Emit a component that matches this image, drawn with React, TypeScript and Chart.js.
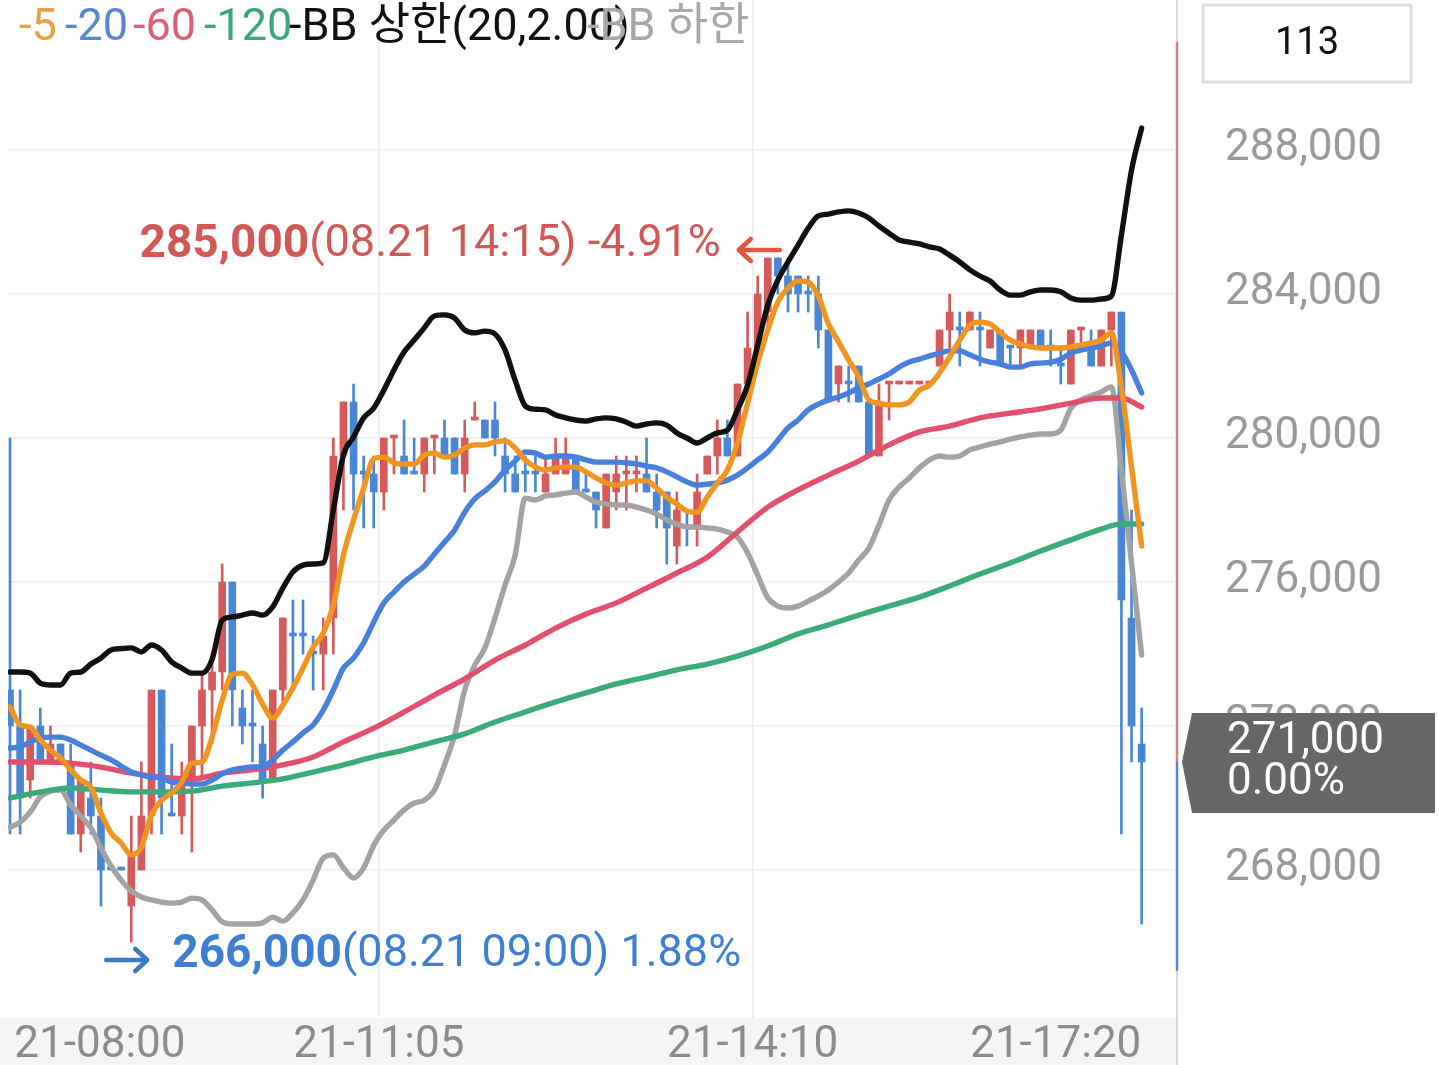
import React, { useEffect, useRef } from "react";
import { Chart, registerables } from "chart.js";

Chart.register(...registerables);

// ---------- candle data (index 0..112) ----------
const opens = [
  273000, 272000, 270500, 272000, 271000, 271500, 271000, 269000, 270000, 269500,
  268000, 268000, 267000, 268000, 269500, 273000, 269500, 269500, 270500, 272000,
  273000, 273500, 276000, 272500, 272000, 271500, 270500, 273000, 274500, 274500,
  274000, 274000, 275000, 279500, 281000, 279000, 279000, 278500, 280000, 279500,
  279000, 279000, 280000, 280000, 280000, 279000, 280500, 280500, 280500, 279500,
  279000, 279000, 279000, 278500, 279000, 279000, 279500, 278500, 278500, 277500,
  278500, 279000, 279000, 279000, 278500, 278500, 277000, 277500, 277500, 279000,
  279500, 280000, 279500, 281500, 282500, 283500, 285000, 284500, 284500, 284000,
  284000, 283000, 281500, 281500, 282000, 281000, 279500, 281500, 281500, 281500,
  281500, 281500, 282000, 283000, 283000, 283000, 283000, 282500, 283000, 282500,
  282500, 282500, 283000, 282500, 282000, 281500, 283000, 282500, 282000, 283000,
  283500, 275000, 271500,
];
const highs = [
  280000, 273000, 272000, 272500, 272000, 271500, 271500, 270500, 271000, 270000,
  268000, 268000, 269500, 271000, 273000, 273000, 271500, 271000, 272000, 273500,
  274000, 276500, 276000, 273000, 273000, 272000, 273000, 275000, 275500, 275500,
  274500, 275000, 280000, 281000, 281500, 279500, 279500, 280000, 280000, 280500,
  280000, 280000, 280000, 280500, 280000, 280500, 281000, 280500, 281000, 280000,
  279500, 279500, 279500, 279500, 280000, 280000, 279500, 279000, 278500, 279000,
  279500, 279500, 279500, 280000, 279000, 278500, 278500, 278000, 279000, 279500,
  280500, 280500, 281500, 283500, 284500, 285000, 285000, 285000, 284500, 284500,
  284500, 283000, 282000, 282000, 282000, 281000, 281500, 281500, 281500, 281500,
  281500, 281500, 283000, 284000, 283500, 283500, 283500, 283000, 283000, 282500,
  283000, 283000, 283000, 283000, 282500, 283000, 283000, 283000, 283000, 283500,
  283500, 278000, 272500,
];
const lows = [
  269000, 269000, 270000, 271000, 271000, 271000, 269000, 268500, 269000, 267000,
  268000, 268000, 266000, 268000, 269000, 269000, 269500, 269000, 268500, 270500,
  271500, 273000, 272000, 271500, 271000, 270000, 270500, 272500, 273000, 274000,
  273000, 273000, 274000, 278000, 278000, 277500, 277500, 278000, 279000, 279000,
  279000, 278500, 279000, 279500, 279000, 278500, 280500, 280000, 279500, 278500,
  278500, 278500, 278500, 278500, 279000, 279000, 278500, 278500, 277500, 277500,
  278000, 278000, 278500, 278500, 277500, 276500, 276500, 277000, 277000, 279000,
  279000, 279500, 279500, 281500, 282500, 283000, 284000, 283500, 283500, 283500,
  282500, 281000, 281000, 281000, 281000, 279500, 279500, 280500, 281500, 281500,
  281500, 281500, 282000, 282500, 282000, 283000, 282000, 282500, 282000, 282000,
  282000, 282500, 282500, 282000, 281500, 281500, 282500, 282000, 282000, 282000,
  269000, 271000, 266500,
];
const closes = [
  272000, 270000, 272000, 271000, 271500, 271000, 269000, 270500, 269500, 268000,
  268000, 268000, 268500, 269500, 273000, 270000, 269500, 270500, 272000, 273000,
  273500, 276000, 273000, 272000, 272000, 270500, 273000, 275000, 274500, 274500,
  274000, 274500, 279500, 281000, 279000, 279000, 278500, 280000, 280000, 279000,
  279000, 280000, 280000, 279500, 279000, 280000, 280500, 280000, 280000, 279000,
  278500, 279000, 279000, 279000, 279500, 279500, 278500, 278500, 278000, 279000,
  279000, 279000, 279000, 278500, 278000, 277500, 278000, 277500, 278500, 279500,
  280000, 279500, 281500, 282500, 284000, 285000, 284500, 284000, 284000, 284000,
  283000, 281000, 282000, 281500, 281000, 279500, 281000, 281500, 281500, 281500,
  281500, 281500, 283000, 283500, 283000, 283500, 283000, 283000, 282000, 282500,
  283000, 283000, 282500, 282500, 282000, 283000, 283000, 282000, 283000, 283500,
  275500, 272000, 271000,
];
// unchanged (doji) candles shown in the rising colour
const dojiRedIdx = [38, 42, 46, 61, 62, 87, 88, 89, 90, 91, 106];

// ---------- indicator lines ----------
const ma5 = [
  272530, 272030, 271970, 271610, 271330, 271110, 270780, 270500, 270310, 269580,
  269030, 268750, 268420, 268640, 269530, 269940, 270140, 270440, 270970, 271000,
  271690, 272720, 273440, 273470, 273140, 272610, 272220, 272580, 273060, 273610,
  274190, 274580, 275360, 276750, 277720, 278610, 279420, 279470, 279310, 279280,
  279280, 279530, 279580, 279470, 279530, 279720, 279810, 279810, 279890, 279920,
  279720, 279390, 279190, 279110, 279170, 279190, 279190, 279060, 278890, 278750,
  278690, 278750, 278810, 278810, 278610, 278360, 278170, 277970, 277940, 278360,
  278750, 279110, 279860, 280970, 282080, 283000, 283780, 284170, 284360, 284330,
  283940, 283170, 282670, 282170, 281690, 281060, 280970, 280920, 280920, 281000,
  281330, 281470, 281810, 282250, 282720, 283140, 283220, 283170, 282940, 282720,
  282610, 282530, 282500, 282500, 282500, 282530, 282580, 282640, 282720, 282920,
  281400, 279200, 277000,
];
const ma20 = [
  271390, 271420, 271560, 271670, 271690, 271690, 271610, 271470, 271330, 271190,
  271060, 270890, 270720, 270640, 270580, 270560, 270440, 270420, 270390, 270390,
  270500, 270670, 270780, 270830, 270860, 270860, 271060, 271330, 271560, 271810,
  272030, 272440, 273000, 273610, 273890, 274310, 274890, 275420, 275720, 276000,
  276220, 276440, 276780, 277110, 277440, 277940, 278310, 278530, 278780, 279110,
  279360, 279610, 279580, 279470, 279500, 279500, 279470, 279390, 279330, 279330,
  279330, 279310, 279280, 279220, 279170, 279060, 278920, 278780, 278690, 278720,
  278750, 278830, 278970, 279170, 279390, 279610, 279940, 280280, 280500, 280780,
  280940, 281060, 281140, 281250, 281390, 281500, 281640, 281780, 281970, 282110,
  282190, 282280, 282360, 282420, 282420, 282310, 282190, 282110, 282060, 281970,
  281970, 282060, 282080, 282110, 282190, 282360, 282440, 282500, 282560, 282640,
  282390, 281890, 281250,
];
const bbUpper = [
  273500, 273500, 273470, 273190, 273140, 273140, 273470, 273500, 273720, 273890,
  274110, 274150, 274170, 274060, 274250, 274110, 273780, 273610, 273470, 273470,
  273850, 274940, 275030, 275080, 275140, 275080, 275310, 275830, 276280, 276470,
  276500, 276530, 278000, 279530, 280030, 280560, 280830, 281330, 281890, 282390,
  282720, 283060, 283390, 283420, 283330, 283000, 282920, 282970, 282890, 282440,
  281600, 280890, 280800, 280780, 280640, 280560, 280500, 280470, 280530, 280560,
  280530, 280440, 280330, 280390, 280420, 280360, 280140, 280000, 279860, 280000,
  280140, 280220, 280780, 281470, 282580, 283690, 284390, 284890, 285360, 285830,
  286170, 286220, 286280, 286310, 286250, 286110, 285890, 285690, 285500, 285440,
  285390, 285310, 285250, 285080, 284890, 284670, 284500, 284360, 284110, 283970,
  283970, 284060, 284110, 284110, 284060, 283890, 283830, 283830, 283860, 283940,
  285640, 287440, 288610,
];
const bbLower = [
  269190, 269330, 269610, 270030, 270190, 270220, 269810, 269500, 269170, 268610,
  268110, 267720, 267420, 267250, 267170, 267110, 267080, 267110, 267220, 267170,
  266890, 266560, 266500, 266500, 266500, 266530, 266690, 266580, 266810, 267170,
  267720, 268330, 268420, 268060, 267780, 268060, 268690, 269110, 269390, 269670,
  269860, 269940, 270220, 270920, 271750, 273000, 273690, 274170, 275000, 275920,
  276750, 278330, 278280, 278390, 278420, 278470, 278500, 278360, 278220, 278170,
  278140, 278140, 278080, 278000, 277890, 277720, 277610, 277530, 277530, 277500,
  277470, 277390, 277250, 276810, 276190, 275560, 275330, 275280, 275330, 275470,
  275610, 275780, 276000, 276250, 276610, 276940, 277580, 278280, 278640, 278890,
  279170, 279390, 279500, 279470, 279500, 279670, 279750, 279830, 279890, 279970,
  280030, 280080, 280110, 280110, 280220, 280830, 281060, 281170, 281280, 281420,
  279110, 276530, 273970,
];
const slowIdx = [
  0, 3, 6, 9, 12, 15, 18, 21, 24, 27, 30, 33, 36, 39, 42, 45, 48, 51, 54, 57,
  60, 63, 66, 69, 72, 75, 78, 81, 84, 87, 90, 93, 96, 99, 102, 105, 108, 110, 112,
];
const ma60 = [
  271000, 271000, 270970, 270860, 270690, 270580, 270530, 270690, 270780, 270920,
  271140, 271560, 271940, 272390, 272860, 273310, 273830, 274250, 274720, 275110,
  275420, 275830, 276250, 276690, 277390, 278080, 278560, 278970, 279360, 279810,
  280170, 280330, 280560, 280690, 280810, 280970, 281110, 281110, 280860,
];
const ma120 = [
  270000, 270170, 270280, 270220, 270170, 270170, 270190, 270330, 270420, 270530,
  270720, 270920, 271140, 271330, 271560, 271780, 272110, 272390, 272670, 272920,
  273170, 273360, 273560, 273720, 273940, 274220, 274560, 274810, 275080, 275330,
  275580, 275890, 276220, 276530, 276860, 277170, 277470, 277610, 277610,
];

// ---------- axes / labels ----------
const xTickIdx = [8.9, 36.5, 73.5, 103.5];
const xTickLabels = ["21-08:00", "21-11:05", "21-14:10", "21-17:20"];
const yTicks = [268000, 272000, 276000, 280000, 284000, 288000];
const legendLabels = ["-5", "-20", "-60", "-120", "-BB 상한(20,2.00)", "-BB 하한"];

const highNote = { time: "08.21 14:15", pct: "-4.91%" };
const lowNote = { time: "08.21 09:00", pct: "1.88%" };
const currentPrice = 271000;
const currentPct = "0.00%";
const rangeTop = 291000;
const rangeBottom = 265200;

const FONT = "Roboto, 'Noto Sans CJK KR', sans-serif";
const RED = "#d65a5c";
const BLUE = "#4a86d6";

export default function App() {
  const ref = useRef<HTMLCanvasElement>(null);

  useEffect(() => {
    const canvas = ref.current;
    if (!canvas) return;
    const n = closes.length;
    const idx = closes.map((_, i) => i);
    const isUp = (i: number) =>
      closes[i] > opens[i] || (closes[i] === opens[i] && dojiRedIdx.includes(i));
    const colors = idx.map((i) => (isUp(i) ? RED : BLUE));
    const bodies = idx.map((i) => ({ x: i, y: [opens[i], closes[i]] }));
    const wicks = idx.map((i) => ({ x: i, y: [lows[i], highs[i]] }));
    const perIdx = (arr: number[]) => arr.map((v, i) => ({ x: i, y: v }));
    const sparse = (xs: number[], ys: number[]) => xs.map((x, k) => ({ x, y: ys[k] }));

    let maxI = 0;
    let minI = 0;
    highs.forEach((h, i) => {
      if (h > highs[maxI]) maxI = i;
    });
    lows.forEach((l, i) => {
      if (l < lows[minI]) minI = i;
    });

    const lineDs = (label: string, data: any[], color: string, order: number, width = 5.4) => ({
      type: "line" as const,
      label,
      data,
      borderColor: color,
      borderWidth: width,
      pointRadius: 0,
      tension: 0.25,
      cubicInterpolationMode: "monotone" as const,
      borderJoinStyle: "round" as const,
      borderCapStyle: "round" as const,
      order,
      parsing: { xAxisKey: "x", yAxisKey: "y" },
    });

    const deco = {
      id: "deco",
      beforeDraw(chart: any) {
        const { ctx, chartArea } = chart;
        ctx.save();
        ctx.fillStyle = "#ffffff";
        ctx.fillRect(0, 0, chart.width, chart.height);
        ctx.fillStyle = "#f5f5f5";
        ctx.fillRect(0, chartArea.bottom, chartArea.right, chart.height - chartArea.bottom);
        ctx.restore();
      },
      afterDraw(chart: any) {
        const { ctx, chartArea, scales } = chart;
        const xs = scales.x;
        const ys = scales.y;
        ctx.save();
        // right border of plot
        const bx = chartArea.right - 1;
        ctx.strokeStyle = "#d0d0d0";
        ctx.lineWidth = 1.5;
        ctx.beginPath();
        ctx.moveTo(bx, 0);
        ctx.lineTo(bx, chart.height);
        ctx.stroke();
        // range line (red above current price, blue below)
        const pyCur = ys.getPixelForValue(currentPrice);
        ctx.lineWidth = 2.5;
        ctx.strokeStyle = "#c98484";
        ctx.beginPath();
        ctx.moveTo(bx, ys.getPixelForValue(rangeTop));
        ctx.lineTo(bx, pyCur);
        ctx.stroke();
        ctx.strokeStyle = "#5a86c8";
        ctx.beginPath();
        ctx.moveTo(bx, pyCur);
        ctx.lineTo(bx, ys.getPixelForValue(rangeBottom));
        ctx.stroke();

        // legend
        const legX = [19, 65, 133, 204, 289, 587];
        const legC = ["#e8a040", "#5b86cf", "#d8607a", "#3ea57a", "#111111", "#a8a8a8"];
        ctx.font = `45px ${FONT}`;
        ctx.textBaseline = "middle";
        ctx.textAlign = "left";
        legendLabels.forEach((t, k) => {
          ctx.fillStyle = legC[k];
          ctx.fillText(t, legX[k], 29);
        });

        // high annotation
        const hx = xs.getPixelForValue(maxI);
        const hy = ys.getPixelForValue(highs[maxI]);
        const hBold = highs[maxI].toLocaleString("en-US");
        const hRest = `(${highNote.time}) ${highNote.pct}`;
        ctx.font = `bold 46px ${FONT}`;
        const wHB = ctx.measureText(hBold).width;
        ctx.font = `45px ${FONT}`;
        const wHR = ctx.measureText(hRest).width;
        const hEnd = hx - 47;
        ctx.fillStyle = "#d25858";
        ctx.font = `bold 46px ${FONT}`;
        ctx.fillText(hBold, hEnd - wHR - wHB, hy - 13);
        ctx.font = `45px ${FONT}`;
        ctx.fillText(hRest, hEnd - wHR, hy - 13);
        ctx.strokeStyle = "#e8553f";
        ctx.lineWidth = 4.5;
        ctx.lineCap = "round";
        ctx.lineJoin = "round";
        ctx.beginPath();
        ctx.moveTo(hx + 12, hy - 8);
        ctx.lineTo(hx - 28, hy - 8);
        ctx.moveTo(hx - 17, hy - 19);
        ctx.lineTo(hx - 29, hy - 8);
        ctx.lineTo(hx - 17, hy + 3);
        ctx.stroke();

        // low annotation
        const lx = xs.getPixelForValue(minI);
        const ly = ys.getPixelForValue(lows[minI]);
        const lBold = lows[minI].toLocaleString("en-US");
        const lRest = `(${lowNote.time}) ${lowNote.pct}`;
        ctx.fillStyle = "#3f7fd3";
        ctx.font = `bold 46px ${FONT}`;
        const wLB = ctx.measureText(lBold).width;
        ctx.fillText(lBold, lx + 41, ly + 13);
        ctx.font = `45px ${FONT}`;
        ctx.fillText(lRest, lx + 41 + wLB, ly + 13);
        ctx.strokeStyle = "#3a78c8";
        ctx.beginPath();
        ctx.moveTo(lx - 25, ly + 18);
        ctx.lineTo(lx + 15, ly + 18);
        ctx.moveTo(lx + 4, ly + 7);
        ctx.lineTo(lx + 16, ly + 18);
        ctx.lineTo(lx + 4, ly + 29);
        ctx.stroke();

        // count box
        const cx = chartArea.right + 129;
        ctx.fillStyle = "#ffffff";
        ctx.fillRect(cx - 104, 5, 208, 77);
        ctx.strokeStyle = "#dedede";
        ctx.lineWidth = 3;
        ctx.strokeRect(cx - 104, 5, 208, 77);
        ctx.fillStyle = "#111111";
        ctx.font = `38px ${FONT}`;
        ctx.textAlign = "center";
        ctx.fillText(String(n), cx, 44);

        // current price tag
        const tl = chartArea.right + 4;
        ctx.fillStyle = "#666668";
        ctx.beginPath();
        ctx.moveTo(tl, pyCur);
        ctx.lineTo(tl + 10, pyCur - 49);
        ctx.lineTo(chart.width - 4, pyCur - 49);
        ctx.lineTo(chart.width - 4, pyCur + 51);
        ctx.lineTo(tl + 10, pyCur + 51);
        ctx.closePath();
        ctx.fill();
        ctx.fillStyle = "#ffffff";
        ctx.textAlign = "left";
        ctx.font = `44px ${FONT}`;
        ctx.fillText(currentPrice.toLocaleString("en-US"), tl + 45, pyCur - 20);
        ctx.fillText(currentPct, tl + 45, pyCur + 21);
        ctx.restore();
      },
    };

    const chart = new Chart(canvas, {
      type: "bar",
      data: {
        datasets: [
          lineDs("BB 상한", perIdx(bbUpper), "#111111", 1),
          lineDs("5", perIdx(ma5), "#f0951f", 2),
          lineDs("20", perIdx(ma20), "#4a80dd", 3),
          lineDs("60", sparse(slowIdx, ma60), "#e2506e", 4),
          lineDs("120", sparse(slowIdx, ma120), "#3bab7b", 5),
          lineDs("BB 하한", perIdx(bbLower), "#a3a3a3", 6),
          {
            type: "bar" as const,
            label: "body",
            data: bodies as any,
            backgroundColor: colors,
            barThickness: 7,
            minBarLength: 3,
            grouped: false,
            borderWidth: 0,
            borderSkipped: false,
            order: 10,
          },
          {
            type: "bar" as const,
            label: "wick",
            data: wicks as any,
            backgroundColor: colors,
            barThickness: 2,
            grouped: false,
            borderWidth: 0,
            borderSkipped: false,
            order: 11,
          },
        ] as any,
      },
      plugins: [deco],
      options: {
        responsive: false,
        animation: false,
        events: [],
        layout: { padding: { left: 8, top: 0, right: 0, bottom: 0 } },
        plugins: { legend: { display: false }, tooltip: { enabled: false } },
        scales: {
          x: {
            type: "linear",
            position: "bottom",
            min: -0.2,
            max: 115.6,
            offset: false,
            afterBuildTicks: (s: any) => {
              s.ticks = xTickIdx.map((v) => ({ value: v }));
            },
            afterFit: (s: any) => {
              s.height = 47;
              s.paddingLeft = 0;
              s.paddingRight = 0;
            },
            ticks: {
              autoSkip: false,
              maxRotation: 0,
              padding: 2,
              color: "#8c8c8c",
              font: { size: 44, family: FONT },
              callback: (_v: any, i: number) => xTickLabels[i],
            },
            grid: {
              offset: false,
              drawTicks: false,
              lineWidth: 1.5,
              color: (c: any) => (c.index === 1 || c.index === 2 ? "#ececec" : "rgba(0,0,0,0)"),
            },
            border: { display: false },
          },
          y: {
            type: "linear",
            position: "right",
            min: 263889,
            max: 292167,
            beginAtZero: false,
            afterBuildTicks: (s: any) => {
              s.ticks = yTicks.map((v) => ({ value: v }));
            },
            afterFit: (s: any) => {
              s.width = 261;
              s.paddingTop = 0;
              s.paddingBottom = 0;
            },
            ticks: {
              padding: 47,
              crossAlign: "near",
              labelOffset: -1,
              color: "#9a9a9a",
              font: { size: 44, family: FONT },
              callback: (v: any) => Number(v).toLocaleString("en-US"),
            },
            grid: { drawTicks: false, color: "#f0f0f0", lineWidth: 1.5 },
            border: { display: false },
          },
        },
      } as any,
    });
    return () => chart.destroy();
  }, []);

  return (
    <div style={{ position: "absolute", left: 0, top: 0, width: 1439, height: 1065, overflow: "hidden" }}>
      <canvas ref={ref} width={1439} height={1065} style={{ display: "block" }} />
    </div>
  );
}
